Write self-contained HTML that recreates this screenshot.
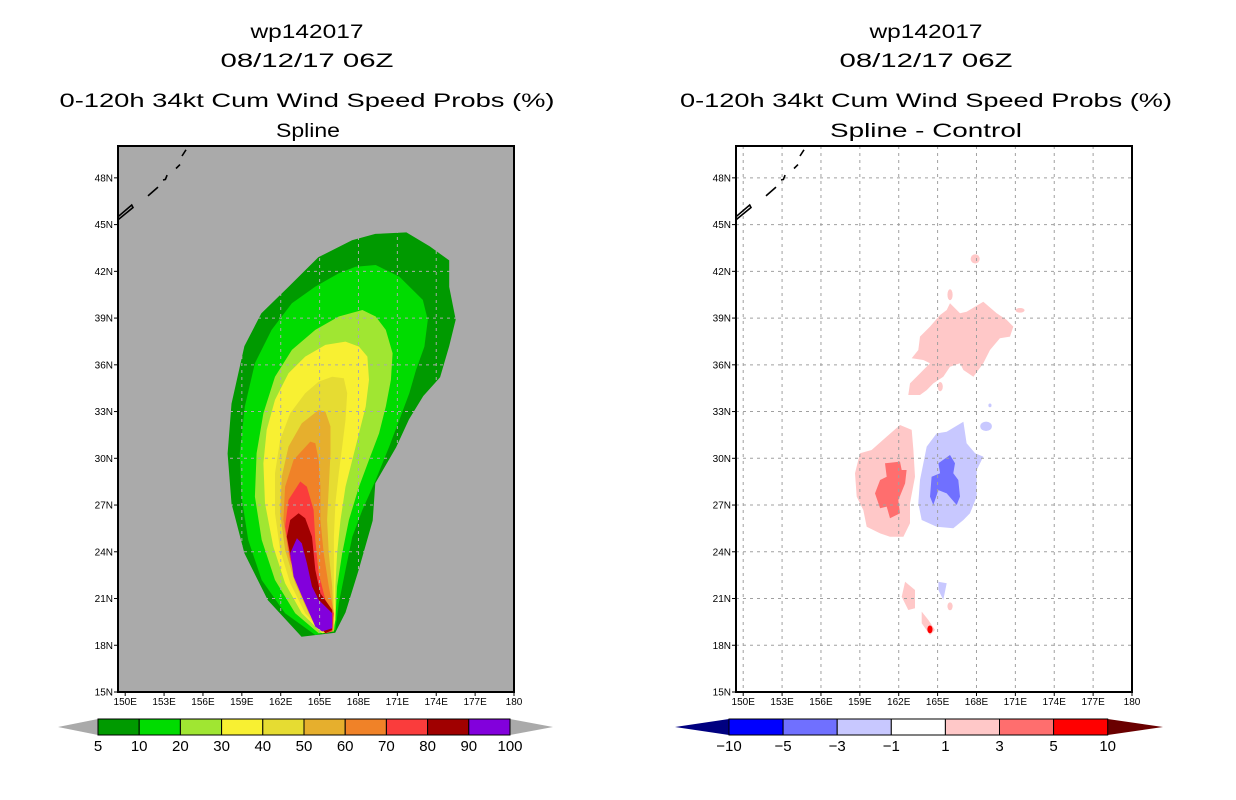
<!DOCTYPE html>
<html><head><meta charset="utf-8"><style>
html,body{margin:0;padding:0;background:#fff;}
svg{display:block;font-family:"Liberation Sans",sans-serif;}
</style></head><body>
<svg id="chart" width="1236" height="800" viewBox="0 0 1236 800" xmlns="http://www.w3.org/2000/svg"></svg>
<script>
// ---------- data ----------
const latTicks = [15,18,21,24,27,30,33,36,39,42,45,48];
const lonTicks = [150,153,156,159,162,165,168,171,174,177,180];
const probLevels = [5,10,20,30,40,50,60,70,80,90,100];
const probColors = ['#009a00','#00dc00','#a0e632','#f8f032','#e6dc32','#e6af2d','#f08228','#fa3c3c','#a00000','#8200dc'];
const diffLevels = [-10,-5,-3,-1,1,3,5,10];
const diffColors = ['#0000ff','#7070ff','#c8c8ff','#ffffff','#ffc8c8','#ff6e6e','#ff0000'];
// probability contours [lon,lat]
const p05 = [[169.3,44.4],[171.7,44.5],[173.5,43.6],[175.0,42.7],[175.0,41.0],[175.5,38.9],[175.0,37.2],[174.3,35.2],[173.0,34.0],[171.9,32.5],[170.9,30.7],[169.3,28.4],[169.1,26.0],[168.0,22.8],[167.0,20.1],[166.2,18.8],[163.6,18.55],[161.0,20.9],[159.2,23.9],[158.2,27.1],[157.9,30.3],[158.2,33.5],[159.2,37.2],[160.5,39.3],[162.6,41.0],[164.9,42.9],[167.5,44.0]];
const p10 = [[167.78,42.30],[169.33,42.41],[171.15,41.66],[172.18,40.81],[172.96,40.17],[173.35,38.88],[173.09,37.17],[172.44,35.67],[171.92,34.17],[171.15,32.46],[170.37,30.75],[169.33,28.61],[168.30,26.69],[167.52,24.97],[167.00,22.84],[166.48,20.70],[166.22,18.98],[164.67,18.66],[162.34,20.05],[160.53,22.19],[159.49,24.76],[158.97,27.54],[158.84,30.32],[159.23,33.32],[160.01,36.10],[161.30,38.24],[162.86,39.95],[164.67,41.02],[166.48,41.88]];
const p20 = [[168.30,39.52],[169.33,39.10],[170.11,38.24],[170.63,36.74],[170.50,35.03],[170.11,33.32],[169.59,31.61],[168.81,29.90],[168.04,28.18],[167.26,26.04],[166.74,23.91],[166.35,21.77],[166.22,19.63],[166.10,18.88],[164.93,18.77],[163.12,20.05],[161.56,22.19],[160.53,24.76],[160.01,27.54],[160.14,30.32],[160.66,32.89],[161.56,35.24],[162.86,36.96],[164.67,38.24],[166.48,39.10]];
const p30 = [[167.00,37.49],[168.04,37.17],[168.69,36.53],[168.81,35.03],[168.56,33.32],[168.04,31.61],[167.52,29.90],[167.00,28.18],[166.61,26.04],[166.35,23.91],[166.22,21.77],[166.22,19.63],[165.97,18.88],[165.19,18.77],[163.63,20.05],[162.34,21.98],[161.43,24.33],[160.79,27.11],[160.66,29.68],[160.92,31.82],[161.56,33.75],[162.60,35.46],[163.89,36.53],[165.45,37.28]];
const p40 = [[165.97,35.24],[166.87,35.14],[167.13,34.17],[167.00,32.46],[166.74,30.75],[166.48,29.04],[166.22,27.11],[166.10,24.97],[166.10,22.84],[166.10,20.70],[166.10,18.98],[165.32,18.77],[163.89,20.05],[162.73,21.98],[161.95,24.12],[161.56,26.47],[161.56,29.04],[161.95,31.18],[162.73,32.89],[163.89,34.17],[164.93,34.92]];
const p50 = [[164.93,33.10],[165.45,33.00],[165.84,32.04],[165.84,30.32],[165.71,28.18],[165.58,26.04],[165.71,23.91],[165.97,21.77],[166.10,18.98],[165.45,18.77],[164.15,20.05],[163.12,21.98],[162.34,24.12],[161.95,26.47],[162.08,28.83],[162.60,30.75],[163.63,32.25]];
const p60 = [[164.28,31.07],[164.67,30.97],[164.93,29.90],[165.06,28.18],[165.06,26.04],[165.32,23.91],[165.71,21.77],[166.10,20.05],[165.97,18.88],[165.45,18.77],[164.41,19.84],[163.38,21.77],[162.60,23.91],[162.21,26.04],[162.34,28.18],[162.99,29.90]];
const p70 = [[163.51,28.51],[164.02,28.18],[164.54,26.69],[164.67,24.76],[164.93,22.62],[165.45,20.91],[166.10,20.05],[165.97,18.88],[165.45,18.77],[164.54,19.63],[163.51,21.55],[162.73,23.48],[162.34,25.62],[162.60,27.33]];
const p80 = [[163.38,26.47],[163.89,26.15],[164.41,24.97],[164.67,22.84],[165.06,21.34],[165.97,20.27],[165.97,18.98],[165.45,18.77],[164.80,19.41],[163.76,21.34],[162.86,23.26],[162.47,24.97],[162.73,26.04]];
const p90 = [[163.25,24.87],[163.63,24.55],[164.02,23.26],[164.41,21.77],[164.93,20.91],[165.97,20.05],[165.97,19.09],[165.19,18.88],[164.67,19.20],[163.76,20.91],[162.99,22.41],[162.73,23.91]];
const probContours = [p05,p10,p20,p30,p40,p50,p60,p70,p80,p90];
// difference regions [lon,lat]
const dPinkNorth = [[165.70,39.52],[165.96,39.95],[166.73,39.31],[167.24,39.41],[168.53,40.05],[169.56,39.31],[170.33,38.88],[170.84,38.45],[170.59,37.81],[169.81,37.70],[169.04,36.95],[168.53,36.10],[167.76,35.24],[166.99,35.67],[166.73,36.10],[165.96,35.88],[165.44,35.24],[164.67,34.81],[164.16,34.38],[163.64,34.06],[162.74,34.06],[162.87,34.81],[163.64,35.45],[164.41,36.10],[163.90,36.31],[163.00,36.42],[163.51,36.95],[163.64,37.81],[164.41,38.45],[165.19,39.20]];
const dPinkWest = [[159.01,30.32],[159.91,30.53],[161.07,31.39],[162.10,32.14],[163.00,31.82],[163.13,30.53],[163.26,28.82],[162.87,27.11],[162.87,25.83],[162.36,24.97],[161.33,24.97],[160.56,25.18],[159.53,25.61],[159.27,26.68],[158.76,27.54],[158.63,29.04]];
const dRedWest = [[160.94,29.68],[162.10,29.79],[162.23,29.25],[162.61,29.25],[162.49,28.39],[161.97,27.32],[162.10,26.47],[161.33,26.15],[161.07,26.90],[160.56,26.79],[160.17,27.75],[160.56,28.61],[161.07,28.82]];
const dBlueEast = [[164.93,31.60],[165.70,31.71],[166.34,32.03],[166.99,32.35],[167.24,30.96],[167.89,30.32],[168.53,30.11],[168.02,29.25],[168.02,27.54],[167.50,26.47],[166.99,26.04],[166.21,25.51],[164.93,25.61],[163.77,26.04],[163.51,27.11],[163.64,28.61],[164.16,30.75]];
const dBlueDark = [[165.96,30.21],[166.34,29.68],[166.21,29.04],[166.60,28.61],[166.73,27.54],[166.47,27.00],[165.70,27.75],[165.06,27.96],[164.67,27.00],[164.41,27.54],[164.54,28.82],[165.19,29.04],[165.06,29.68]];
const dPinkSouth = [[162.49,22.08],[163.26,21.55],[163.26,20.37],[162.74,20.26],[162.23,21.12]];
const dBlueSouth = [[165.06,22.08],[165.70,21.98],[165.44,20.91],[165.06,21.55]];
const dPinkTip = [[163.77,20.16],[164.29,19.62],[164.80,18.98],[164.41,18.66],[163.77,19.41]];
const diffRegions = [dPinkNorth,dPinkWest,dRedWest,dBlueEast,dBlueDark,dPinkSouth,dBlueSouth,dPinkTip];
const diffRegionLevel = [4,4,5,2,1,4,2,4];
const diffSpots = [[167.9,42.8,0.35,0.3,4],[165.96,40.5,0.2,0.35,4],[171.36,39.5,0.35,0.15,4],[165.2,34.6,0.2,0.3,4],[168.74,32.05,0.45,0.3,2],[169.04,33.4,0.12,0.12,2],[165.96,20.5,0.2,0.25,4],[164.41,19.02,0.2,0.25,6]];
// coastline (Kuril islands)
const coast = [[[149.44,45.5],[150.5,46.26],[150.6,46.1],[149.44,45.3]],[[151.76,46.84],[152.53,47.41]],[[152.92,47.86],[153.1,47.9],[153.23,48.18]],[[153.92,48.6],[154.23,48.85]],[[154.38,49.4],[154.69,49.8]]];

// ---------- drawing ----------
const svg = document.getElementById('chart');
const NS = 'http://www.w3.org/2000/svg';
function mk(tag, attrs, parent){const e=document.createElementNS(NS,tag);for(const k in attrs)e.setAttribute(k,attrs[k]);(parent||svg).appendChild(e);return e;}
const PXDEG = 12.96, PXLAT = 15.58;
function panel(x0, kind){
  const xR = x0 + 396;
  const X = lon => xR - (180 - lon) * PXDEG;
  const Y = lat => 692 - (lat - 15) * PXLAT;
  const g = mk('g', {});
  
  
  const bg = mk('rect', {x:x0, y:146, width:396, height:546, fill: kind==='spline' ? '#aaaaaa' : '#ffffff'}, g);
  
  
  const pts = arr => arr.map(p => X(p[0]).toFixed(1)+','+Y(p[1]).toFixed(1)).join(' ');
  if (kind === 'spline') {
    probContours.forEach((c, i) => {
      const p = mk('polygon', {points: pts(c), fill: probColors[i]}, g);
      
      
    });
  } else {
    diffRegions.forEach((c, i) => {
      const p = mk('polygon', {points: pts(c), fill: diffColors[diffRegionLevel[i]]}, g);
      
      
    });
    diffSpots.forEach(s => {
      const e = mk('ellipse', {cx: X(s[0]), cy: Y(s[1]), rx: s[2]*PXDEG, ry: s[3]*PXLAT, fill: diffColors[s[4]]}, g);
      
      
    });
  }
  const gc = kind === 'spline' ? '#aaaaaa' : '#a0a0a0';
  lonTicks.slice(0, -1).forEach(l => {
    const ln = mk('line', {x1:X(l), x2:X(l), y1:146, y2:692, stroke:gc, 'stroke-width':1, 'stroke-dasharray':'3,4'}, g);
    
    
  });
  latTicks.slice(1).forEach(l => {
    const ln = mk('line', {x1:x0, x2:xR, y1:Y(l), y2:Y(l), stroke:gc, 'stroke-width':1, 'stroke-dasharray':'3,4'}, g);
    
    
  });
  coast.forEach(c => {
    const pl = mk('polyline', {points: pts(c), fill:'none', stroke:'#000', 'stroke-width':1.6}, g);
    
    
  });
  const fr = mk('rect', {x:x0, y:146, width:396, height:546, fill:'none', stroke:'#000', 'stroke-width':2}, g);
  
  
  latTicks.forEach(l => {
    mk('line', {x1:x0-4, x2:x0, y1:Y(l), y2:Y(l), stroke:'#000', 'stroke-width':1}, g);
    const t = mk('text', {x:x0-5, y:Y(l)+3.5, 'font-size':10, 'text-anchor':'end', fill:'#000'}, g);
    t.textContent = l + 'N';
    
    
  });
  lonTicks.forEach(l => {
    mk('line', {x1:X(l), x2:X(l), y1:692, y2:696, stroke:'#000', 'stroke-width':1}, g);
    const t = mk('text', {x:X(l), y:705, 'font-size':10, 'text-anchor':'middle', fill:'#000'}, g);
    t.textContent = l === 180 ? '180' : l + 'E';
    
    
  });
}
panel(118, 'spline');
panel(736, 'diff');

function title(cx, y, txt, w, name){
  const t = mk('text', {x:cx, y:y, 'font-size':19, 'text-anchor':'middle', fill:'#000', textLength:w, lengthAdjust:'spacingAndGlyphs'});
  t.textContent = txt;
  
  
}
title(307, 38, 'wp142017', 113, 'storm-id-title');
title(307, 67, '08/12/17 06Z', 173, 'date-title');
title(307, 107, '0-120h 34kt Cum Wind Speed Probs (%)', 495, 'product-title');
title(308, 137, 'Spline', 64, 'panel-subtitle');
title(926, 38, 'wp142017', 113, 'storm-id-title');
title(926, 67, '08/12/17 06Z', 173, 'date-title');
title(926, 107, '0-120h 34kt Cum Wind Speed Probs (%)', 492, 'product-title');
title(926, 137, 'Spline - Control', 192, 'panel-subtitle');

function colorbar(xs, colors, labels, leftTri, rightTri, triL, triR, name){
  const g = mk('g', {});
  
  
  const y0 = 719, y1 = 735, ym = 727;
  const a = mk('polygon', {points: `${xs[0]},${y0} ${triL},${ym} ${xs[0]},${y1}`, fill:leftTri}, g);
  
  
  const b = mk('polygon', {points: `${xs[xs.length-1]},${y0} ${triR},${ym} ${xs[xs.length-1]},${y1}`, fill:rightTri}, g);
  
  
  colors.forEach((c, i) => {
    const r = mk('rect', {x:xs[i], y:y0, width:xs[i+1]-xs[i], height:y1-y0, fill:c, stroke:'#000', 'stroke-width':1}, g);
    
    
  });
  labels.forEach((l, i) => {
    const t = mk('text', {x:xs[i], y:751, 'font-size':15, 'text-anchor':'middle', fill:'#000'}, g);
    t.textContent = String(l).replace('-', '\u2212');
    
    
  });
}
const probBarX = probLevels.map((v, i) => 98 + i * 41.2);
colorbar(probBarX, probColors, probLevels, '#aaaaaa', '#aaaaaa', 58, 553, 'prob-colorbar');
const diffBarX = diffLevels.map((v, i) => 729 + i * 54.1);
colorbar(diffBarX, diffColors, diffLevels, '#000080', '#6a0000', 675, 1163, 'diff-colorbar');
</script>
</body></html>
